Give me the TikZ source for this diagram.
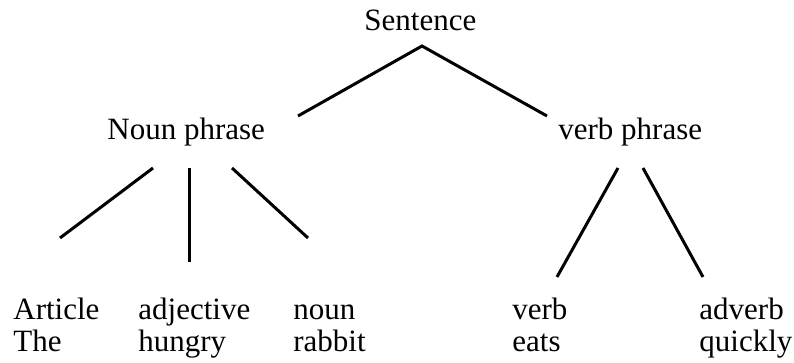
\documentclass[tikz,border=0pt]{standalone}
\usepackage{fontspec}
\setmainfont{Liberation Serif}
\begin{document}
\begin{tikzpicture}[
	x=0.5pt, y=-0.5pt,
	% Styles for the words and the branches
	word/.style={anchor=base west, inner sep=0pt, font=\fontsize{15.5}{18}\selectfont},
	branch/.style={line width=1.5pt, black}
	]
	\useasboundingbox (0,0) rectangle (794,363);
	
	% ==========================================
	% ROOT AND PHRASES
	% ==========================================
	\node[word] (sentence) at (364, 31) {Sentence};
	\node[word] (np) at (107, 140) {Noun phrase};
	\node[word] (vp) at (558, 140) {verb phrase};
	
	% ==========================================
	% WORD CLASSES (with the words below)
	% ==========================================
	\node[word] (art)  at (13, 320)  {Article};
	\node[word] (artw) at (13, 352)  {The};
	\node[word] (adj)  at (138, 320) {adjective};
	\node[word] (adjw) at (138, 352) {hungry};
	\node[word] (noun) at (293, 320) {noun};
	\node[word] (nounw) at (293, 352) {rabbit};
	\node[word] (verb) at (512, 320) {verb};
	\node[word] (verbw) at (512, 352) {eats};
	\node[word] (adv)  at (699, 320) {adverb};
	\node[word] (advw) at (699, 352) {quickly};
	
	% ==========================================
	% BRANCH END POINTS
	% ==========================================
	\coordinate (s-apex) at (422, 46);
	\coordinate (np-up) at (298, 116);
	\coordinate (vp-up) at (547, 116);
	
	\coordinate (np-a) at (153, 168);
	\coordinate (np-b) at (189, 168);
	\coordinate (np-c) at (232, 168);
	\coordinate (art-up) at (60, 238);
	\coordinate (adj-up) at (189, 262);
	\coordinate (noun-up) at (308, 238);
	
	\coordinate (vp-a) at (618, 168);
	\coordinate (vp-b) at (643, 168);
	\coordinate (verb-up) at (557, 277);
	\coordinate (adv-up) at (703, 277);
	
	% ==========================================
	% BRANCHES
	% ==========================================
	\draw[branch] (np-up) -- (s-apex) -- (vp-up);
	
	\draw[branch] (np-a) -- (art-up);
	\draw[branch] (np-b) -- (adj-up);
	\draw[branch] (np-c) -- (noun-up);
	
	\draw[branch] (vp-a) -- (verb-up);
	\draw[branch] (vp-b) -- (adv-up);
	
\end{tikzpicture}
\end{document}
